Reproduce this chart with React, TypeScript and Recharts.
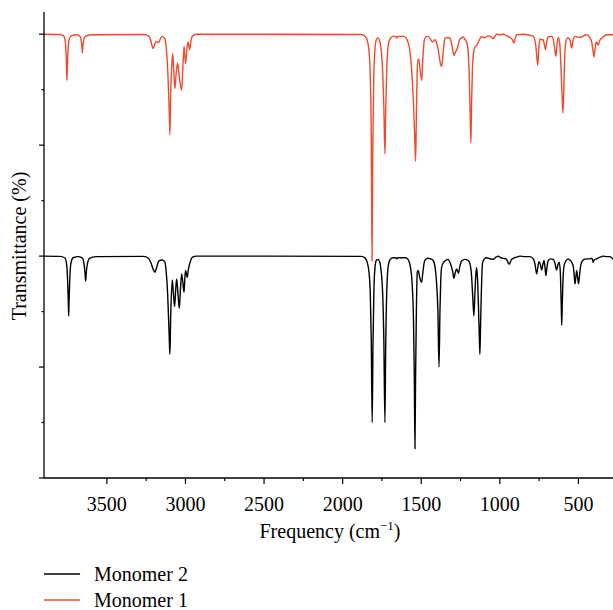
import { LineChart, Line, XAxis, YAxis, Legend } from 'recharts';

const SERIF = "'Liberation Serif', 'Times New Roman', serif";

// [frequency cm-1, transmittance (offset, arbitrary units)]
const monomer2Points: Array<[number, number]> = [
    [3900, 4.0], [3800, 3.995], [3768, 3.97], [3756, 3.85], [3749, 3.5], [3745, 3.15], [3743, 2.92], [3741, 3.15],
    [3737, 3.5], [3730, 3.85], [3715, 3.97], [3680, 3.99], [3655, 3.96], [3645, 3.85], [3639, 3.7], [3635, 3.55],
    [3631, 3.7], [3624, 3.86], [3610, 3.96], [3570, 3.99], [3270, 3.995], [3240, 3.97], [3220, 3.88], [3205, 3.76],
    [3194, 3.71], [3183, 3.8], [3170, 3.91], [3150, 3.93], [3132, 3.9], [3122, 3.7], [3113, 3.3], [3104, 2.6],
    [3099, 2.23], [3094, 2.9], [3084, 3.57], [3076, 3.3], [3069, 3.09], [3062, 3.4], [3056, 3.59], [3047, 3.3],
    [3039, 3.06], [3032, 3.4], [3024, 3.68], [3016, 3.5], [3009, 3.35], [3004, 3.6], [2999, 3.74], [2993, 3.66],
    [2988, 3.62], [2982, 3.75], [2976, 3.83], [2966, 3.93], [2955, 3.98], [2930, 4.0],
    [1880, 3.995], [1860, 3.97], [1845, 3.9], [1832, 3.7], [1824, 3.3], [1818, 2.5], [1812, 1.0], [1807, 2.4],
    [1801, 3.4], [1794, 3.8], [1786, 3.92], [1775, 3.94], [1765, 3.9], [1754, 3.7], [1745, 3.3], [1738, 2.5],
    [1731, 1.0], [1726, 2.4], [1719, 3.4], [1710, 3.82], [1698, 3.94], [1680, 3.97], [1662, 3.97], [1656, 3.95],
    [1648, 3.97], [1600, 3.97], [1584, 3.94], [1570, 3.82], [1558, 3.5], [1549, 2.8], [1544, 1.8], [1540, 0.53],
    [1536, 1.8], [1531, 3.0], [1525, 3.71], [1519, 3.74], [1510, 3.62], [1503, 3.55], [1497, 3.53], [1490, 3.7],
    [1478, 3.92], [1460, 3.96], [1440, 3.95], [1424, 3.92], [1412, 3.8], [1402, 3.5], [1394, 3.0], [1387, 2.0],
    [1381, 3.0], [1376, 3.55], [1370, 3.8], [1357, 3.89], [1345, 3.92], [1330, 3.94], [1314, 3.86], [1300, 3.72],
    [1292, 3.6], [1284, 3.7], [1275, 3.77], [1264, 3.69], [1254, 3.82], [1243, 3.91], [1222, 3.94], [1201, 3.92],
    [1190, 3.86], [1180, 3.65], [1172, 3.25], [1165, 2.92], [1159, 3.3], [1153, 3.65], [1148, 3.79], [1142, 3.6],
    [1136, 3.1], [1131, 2.6], [1127, 2.23], [1123, 2.7], [1118, 3.3], [1113, 3.75], [1109, 3.89], [1098, 3.95],
    [1084, 3.97], [1060, 3.95], [1042, 3.94], [1025, 3.98], [1010, 4.0], [994, 3.97], [978, 3.96], [960, 3.95],
    [940, 3.85], [928, 3.93], [915, 3.96], [895, 3.98], [872, 4.0], [840, 3.99], [808, 3.99], [787, 3.95],
    [776, 3.85], [766, 3.68], [758, 3.8], [751, 3.9], [742, 3.85], [734, 3.75], [726, 3.85], [719, 3.92],
    [712, 3.78], [707, 3.65], [700, 3.8], [692, 3.92], [676, 3.95], [660, 3.94], [650, 3.88], [639, 3.75],
    [630, 3.85], [622, 3.89], [615, 3.7], [610, 3.2], [606, 2.75], [602, 3.2], [596, 3.7], [590, 3.84],
    [578, 3.92], [565, 3.95], [555, 3.93], [543, 3.89], [532, 3.8], [526, 3.62], [522, 3.5], [517, 3.6],
    [511, 3.74], [505, 3.62], [499, 3.5], [493, 3.65], [486, 3.82], [480, 3.89], [464, 3.94], [448, 3.95],
    [430, 3.95], [416, 3.96], [410, 3.93], [406, 3.89], [400, 3.93], [384, 3.95], [362, 3.98], [342, 4.0],
    [320, 3.99], [299, 3.99], [280, 3.94],
];

const monomer1Points: Array<[number, number]> = [
    [3900, 8.0], [3800, 7.995], [3775, 7.97], [3765, 7.88], [3759, 7.6], [3756, 7.35], [3754, 7.17], [3752, 7.35],
    [3749, 7.6], [3742, 7.88], [3728, 7.97], [3690, 7.99], [3670, 7.96], [3662, 7.86], [3658, 7.74], [3656, 7.66],
    [3654, 7.74], [3649, 7.86], [3638, 7.96], [3600, 7.99], [3270, 7.995], [3240, 7.98], [3222, 7.9], [3212, 7.78],
    [3205, 7.74], [3196, 7.82], [3186, 7.87], [3176, 7.85], [3168, 7.86], [3158, 7.93], [3145, 7.96], [3132, 7.92],
    [3122, 7.75], [3112, 7.3], [3104, 6.7], [3099, 6.19], [3094, 6.9], [3086, 7.5], [3081, 7.65], [3074, 7.3],
    [3067, 7.02], [3059, 7.3], [3050, 7.48], [3038, 7.2], [3024, 6.99], [3016, 7.45], [3009, 7.78], [3004, 7.6],
    [2999, 7.47], [2992, 7.7], [2985, 7.86], [2979, 7.8], [2974, 7.72], [2965, 7.88], [2955, 7.97], [2930, 8.0],
    [1880, 7.995], [1860, 7.97], [1845, 7.9], [1832, 7.7], [1824, 7.2], [1818, 6.2], [1813, 3.91], [1808, 6.0],
    [1802, 7.2], [1794, 7.75], [1786, 7.9], [1775, 7.93], [1765, 7.88], [1754, 7.7], [1745, 7.3], [1738, 6.7],
    [1731, 5.84], [1726, 6.6], [1719, 7.4], [1710, 7.8], [1698, 7.92], [1680, 7.96], [1662, 7.96], [1656, 7.93],
    [1648, 7.96], [1610, 7.96], [1590, 7.9], [1575, 7.75], [1562, 7.4], [1550, 6.8], [1542, 6.2], [1536, 5.71],
    [1531, 6.5], [1526, 7.3], [1521, 7.55], [1515, 7.55], [1507, 7.35], [1497, 7.17], [1490, 7.55], [1480, 7.9],
    [1465, 7.96], [1455, 7.96], [1440, 7.9], [1427, 7.86], [1413, 7.9], [1402, 7.84], [1392, 7.72], [1383, 7.55],
    [1376, 7.45], [1370, 7.42], [1364, 7.55], [1356, 7.8], [1349, 7.93], [1330, 7.94], [1317, 7.93], [1305, 7.8],
    [1292, 7.62], [1283, 7.68], [1275, 7.71], [1265, 7.8], [1258, 7.89], [1245, 7.93], [1233, 7.95], [1220, 7.9],
    [1211, 7.86], [1202, 7.7], [1194, 7.2], [1189, 6.6], [1184, 6.04], [1180, 6.7], [1175, 7.3], [1168, 7.65],
    [1158, 7.77], [1147, 7.8], [1137, 7.86], [1126, 7.92], [1116, 7.96], [1105, 7.94], [1095, 7.94], [1074, 7.97],
    [1055, 7.95], [1042, 7.92], [1030, 7.97], [1020, 8.0], [1000, 7.99], [978, 8.0], [955, 7.97], [936, 7.94],
    [920, 7.9], [910, 7.84], [902, 7.93], [893, 7.99], [851, 8.0], [810, 7.98], [787, 7.96], [775, 7.86],
    [766, 7.65], [759, 7.44], [753, 7.7], [745, 7.92], [735, 7.9], [724, 7.9], [716, 7.8], [709, 7.72],
    [701, 7.88], [692, 7.95], [670, 7.96], [658, 7.88], [650, 7.72], [643, 7.6], [637, 7.8], [628, 7.94],
    [618, 7.8], [611, 7.4], [604, 6.9], [598, 6.58], [593, 7.0], [587, 7.6], [579, 7.88], [568, 7.93],
    [558, 7.92], [550, 7.85], [543, 7.75], [535, 7.88], [522, 7.96], [505, 7.95], [490, 7.94], [470, 7.97],
    [448, 7.99], [427, 7.94], [415, 7.85], [407, 7.7], [401, 7.59], [395, 7.72], [389, 7.84], [384, 7.86],
    [378, 7.82], [374, 7.8], [365, 7.88], [352, 7.93], [335, 7.97], [321, 7.99], [300, 7.99], [280, 7.99],
];

const xTicks = [3500, 3250, 3000, 2750, 2500, 2250, 2000, 1750, 1500, 1250, 1000, 750, 500];
const yTicks = [0, 1, 2, 3, 4, 5, 6, 7, 8];

const legendItems = [
    { name: 'Monomer 2', color: '#000000' },
    { name: 'Monomer 1', color: '#ee4a2c' },
];

const monomer1Data = monomer1Points.map(([freq, t]) => ({ freq, t }));
const monomer2Data = monomer2Points.map(([freq, t]) => ({ freq, t }));

const XTick = (props: any) => {
    const { x, y, payload } = props;
    const major = payload.value % 500 === 0;
    return (
        <g>
            <line x1={x} x2={x} y1={y} y2={y + (major ? 6 : 3)} stroke="#000" strokeWidth={1.2} />
            {major && (
                <text x={x} y={y + 33} textAnchor="middle" fontSize={20} fontFamily={SERIF} fill="#000">
                    {payload.value}
                </text>
            )}
        </g>
    );
};

const YTick = (props: any) => {
    const { x, y, payload } = props;
    const major = payload.value % 2 === 0;
    return <line x1={x - (major ? 5 : 2.5)} x2={x} y1={y} y2={y} stroke="#000" strokeWidth={1.2} />;
};

const XLabel = () => (
    <text x={330} y={538} textAnchor="middle" fontSize={20} fontFamily={SERIF} fill="#000">
        <tspan>Frequency (cm</tspan>
        <tspan dy={-8} fontSize={13}>−1</tspan>
        <tspan dy={8}>)</tspan>
    </text>
);

const YLabel = () => (
    <text
        x={26}
        y={246}
        transform="rotate(-90, 26, 246)"
        textAnchor="middle"
        fontSize={20}
        fontFamily={SERIF}
        fill="#000"
    >
        Transmittance (%)
    </text>
);

const LegendBox = () => (
    <div style={{ fontFamily: SERIF, fontSize: 20, color: '#000' }}>
        {legendItems.map((item) => (
            <div key={item.name} style={{ display: 'flex', alignItems: 'center', height: 26 }}>
                <svg width={50} height={4} style={{ display: 'block' }}>
                    <line x1={0} x2={36} y1={2} y2={2} stroke={item.color} strokeWidth={1.4} />
                </svg>
                <span>{item.name}</span>
            </div>
        ))}
    </div>
);

export default function App() {
    return (
        <div style={{ position: 'absolute', left: 0, top: 0, width: 613, height: 610, background: '#fff' }}>
            <LineChart width={613} height={610} margin={{ top: 12, right: 0, bottom: 0, left: 0 }}>
                <XAxis
                    type="number"
                    dataKey="freq"
                    domain={[280, 3900]}
                    reversed
                    allowDataOverflow
                    ticks={xTicks}
                    interval={0}
                    height={132}
                    tickSize={0}
                    tickMargin={0}
                    tickLine={false}
                    tick={<XTick />}
                    axisLine={{ stroke: '#000', strokeWidth: 1.3 }}
                    label={<XLabel />}
                />
                <YAxis
                    type="number"
                    domain={[0, 8.4]}
                    allowDataOverflow
                    ticks={yTicks}
                    interval={0}
                    width={44}
                    tickSize={0}
                    tickMargin={0}
                    tickLine={false}
                    tick={<YTick />}
                    axisLine={{ stroke: '#000', strokeWidth: 1.3 }}
                    label={<YLabel />}
                />
                <Line
                    data={monomer2Data}
                    dataKey="t"
                    name="Monomer 2"
                    type="monotone"
                    stroke="#000000"
                    strokeWidth={1.4}
                    dot={false}
                    isAnimationActive={false}
                />
                <Line
                    data={monomer1Data}
                    dataKey="t"
                    name="Monomer 1"
                    type="monotone"
                    stroke="#ee4a2c"
                    strokeWidth={1.4}
                    dot={false}
                    isAnimationActive={false}
                />
                <Legend
                    layout="horizontal"
                    verticalAlign="middle"
                    align="center"
                    wrapperStyle={{ left: 44, top: 561, width: 200 }}
                    content={<LegendBox />}
                />
            </LineChart>
        </div>
    );
}
